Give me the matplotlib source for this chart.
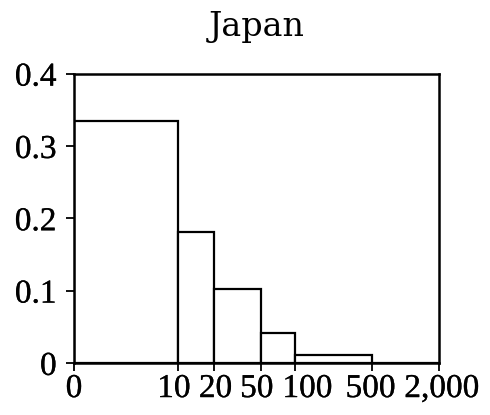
import numpy as np
import matplotlib
matplotlib.use('Agg')
import matplotlib.pyplot as plt
from matplotlib.transforms import ScaledTranslation
import matplotlib.patheffects as pe

# bin edges and relative frequencies
edges = [0, 10, 20, 50, 100, 500, 2000]
freq = [0.335, 0.182, 0.103, 0.041, 0.011, 0.0]
xlabels = ['0', '10', '20', '50', '100', '500', '2,000']
yticks = [0, 0.1, 0.2, 0.3, 0.4]
ylabels = ['0', '0.1', '0.2', '0.3', '0.4']

# where each bin edge sits along the axis (the original uses a stretched scale)
axis_frac = [0.0, 0.285, 0.384, 0.512, 0.605, 0.816, 1.0]
# small sideways nudges (points) the original applies to crowded labels
label_nudge = [0, -3, 1, -3, 9, -1, 2]

def fwd(v):
    return np.interp(v, edges, axis_frac)

def inv(v):
    return np.interp(v, axis_frac, edges)

plt.rcParams['font.family'] = 'Liberation Serif'
thick = [pe.withStroke(linewidth=0.2, foreground='black')]

fig = plt.figure(figsize=(4.9, 4.15), dpi=100)
ax = fig.add_axes([0.151, 0.125, 0.745, 0.697])
ax.set_xscale('function', functions=(fwd, inv))

ax.bar(edges[:-1], freq, width=np.diff(edges), align='edge',
       facecolor='white', edgecolor='black', linewidth=1.6)

ax.set_xlim(0, 2000)
ax.set_ylim(0, 0.4)
ax.set_xticks(edges)
ax.set_xticklabels(xlabels)
ax.set_yticks(yticks)
ax.set_yticklabels(ylabels)
ax.minorticks_off()

for s in ax.spines.values():
    s.set_linewidth(1.8)
ax.tick_params(axis='both', direction='out', length=5.5, width=1.3, labelsize=24)
ax.tick_params(axis='x', pad=2)
ax.tick_params(axis='y', pad=7)

for lab, dx in zip(ax.get_xticklabels(), label_nudge):
    lab.set_transform(lab.get_transform() + ScaledTranslation(dx / 72, 0, fig.dpi_scale_trans))
for lab in ax.get_xticklabels() + ax.get_yticklabels():
    lab.set_path_effects(thick)

ax.set_title('Japan', fontsize=24, pad=27, family='DejaVu Serif')

fig.savefig('out.png', dpi=100)
